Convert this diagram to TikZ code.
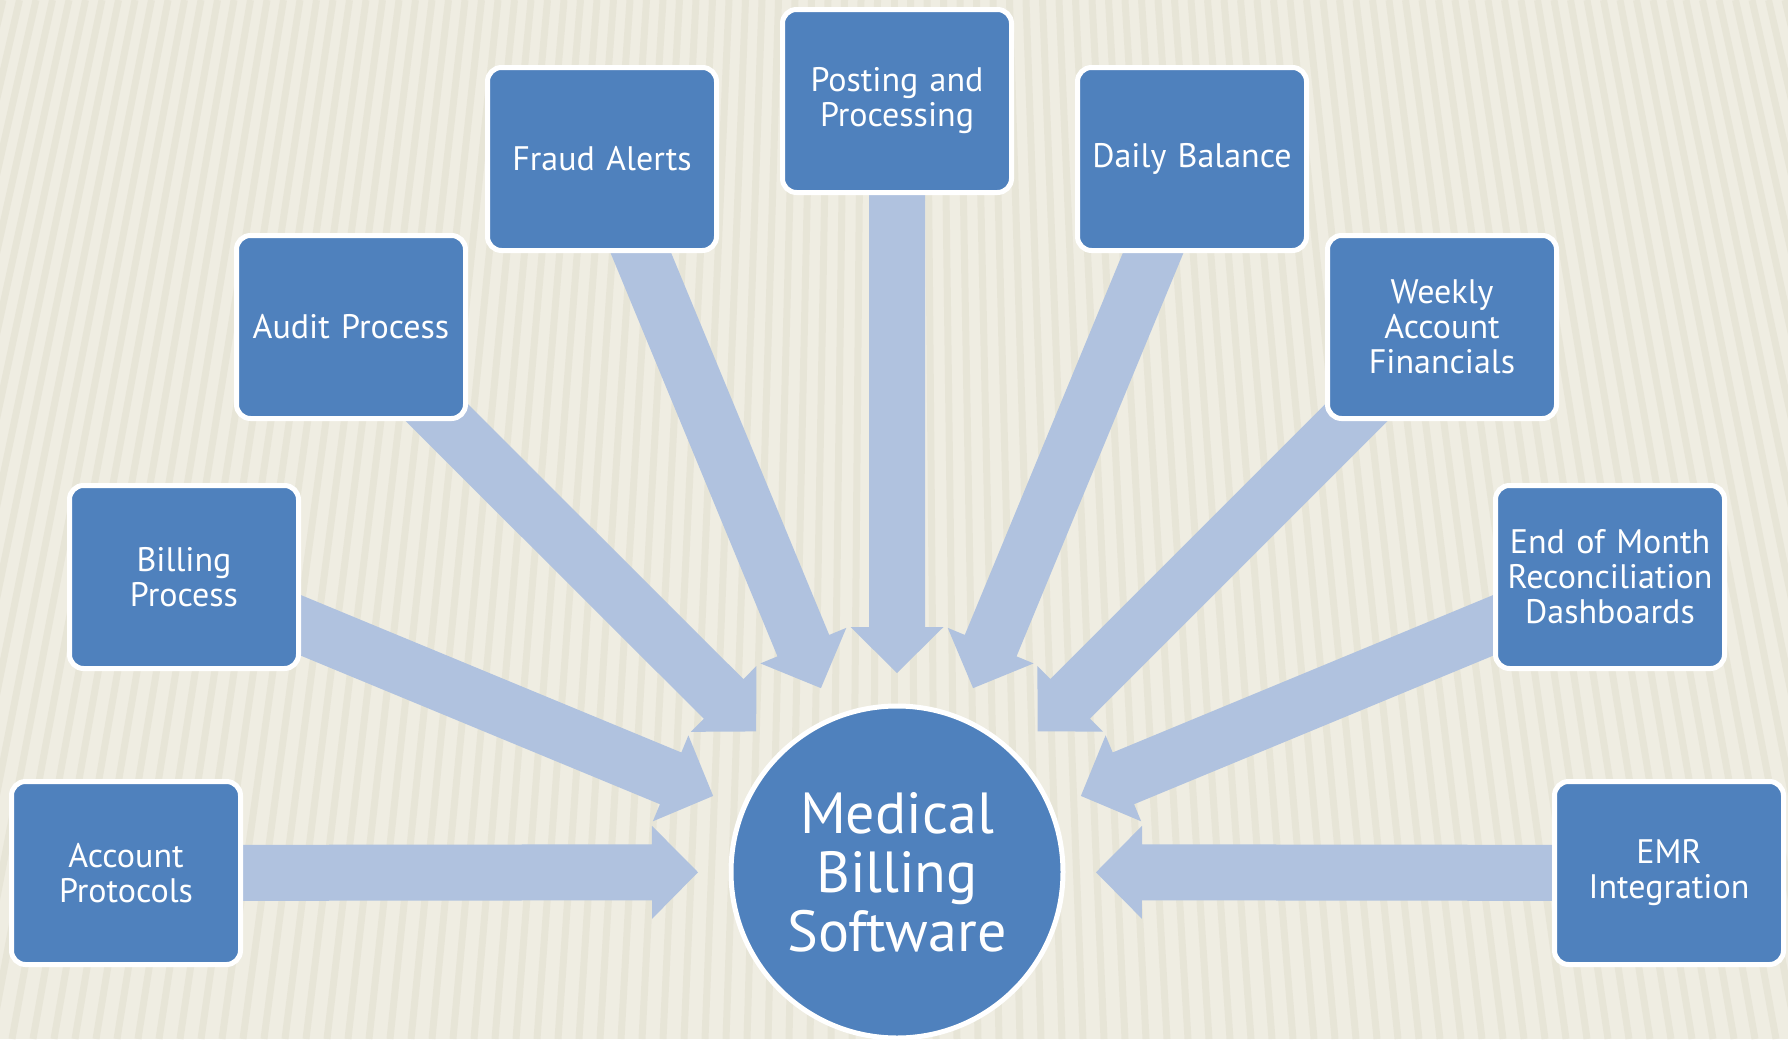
\documentclass[tikz,border=0pt]{standalone}
\usepackage{fontspec}
\setmainfont{PT Sans}
\usetikzlibrary{calc}
\definecolor{bgcol}{HTML}{EFEDE2}
\definecolor{stripecol}{HTML}{D6D3C0}
\definecolor{boxblue}{HTML}{4F81BD}
\definecolor{arrowblue}{HTML}{B0C2DF}
\pgfdeclarelayer{bglayer}
\pgfdeclarelayer{arrowlayer}
\pgfsetlayers{bglayer,arrowlayer,main}
\tikzset{
  boxnode/.style={rectangle, rounded corners=14pt, fill=boxblue, draw=white, line width=5pt,
    minimum width=229pt, minimum height=183pt, text width=219pt, align=center, text=white,
    font=\fontsize{34}{35}\selectfont, inner sep=0pt},
  hub/.style={circle, fill=boxblue, draw=white, line width=5pt, minimum size=332pt,
    text=white, align=center, font=\fontsize{58}{59}\selectfont, inner sep=0pt},
  blockarrow/.style={fill=arrowblue}
}
\newcommand{\barrow}[2]{%
  \coordinate (tp) at ($(#2.center)!199pt!(#1.center)$);
  \coordinate (hb) at ($(tp)!46pt!(#1.center)$);
  \fill[blockarrow] ($(#1.center)!28pt!90:(tp)$) -- ($(hb)!28pt!-90:(#1.center)$)
     -- ($(hb)!46.5pt!-90:(#1.center)$) -- (tp) -- ($(hb)!46.5pt!90:(#1.center)$)
     -- ($(hb)!28pt!90:(#1.center)$) -- ($(#1.center)!28pt!-90:(tp)$) -- cycle;
}
\begin{document}
\begin{tikzpicture}[x=1pt,y=-1pt]
\useasboundingbox (0,0) rectangle (1788,1039);
\begin{pgfonlayer}{bglayer}
  \fill[bgcol] (0,0) rectangle (1788,1039);
  \begin{scope}
    \clip (0,0) rectangle (1788,1039);
    \foreach \i in {-60,...,60}{
      \draw[stripecol, line width=7pt, opacity=0.3] ({894+\i*16.5},0) -- ({894+\i*21},1039);
    }
  \end{scope}
\end{pgfonlayer}

\node[hub] (hub) at (897,872) {Medical\\Billing\\Software};
\node[boxnode] (acc) at (126,873) {Account\\Protocols};
\node[boxnode] (bil) at (184,577) {Billing\\Process};
\node[boxnode] (aud) at (351,327) {Audit Process};
\node[boxnode] (fra) at (602,159) {Fraud Alerts};
\node[boxnode] (pos) at (897,101) {Posting and\\Processing};
\node[boxnode] (dai) at (1192,159) {Daily Balance};
\node[boxnode] (wee) at (1442,327) {Weekly\\Account\\Financials};
\node[boxnode] (end) at (1610,577) {End of Month\\Reconciliation\\Dashboards};
\node[boxnode] (emr) at (1669,873) {EMR\\Integration};

\begin{pgfonlayer}{arrowlayer}
  \foreach \b in {acc,bil,aud,fra,pos,dai,wee,end,emr}{
    \barrow{\b}{hub}
  }
\end{pgfonlayer}
\end{tikzpicture}
\end{document}
